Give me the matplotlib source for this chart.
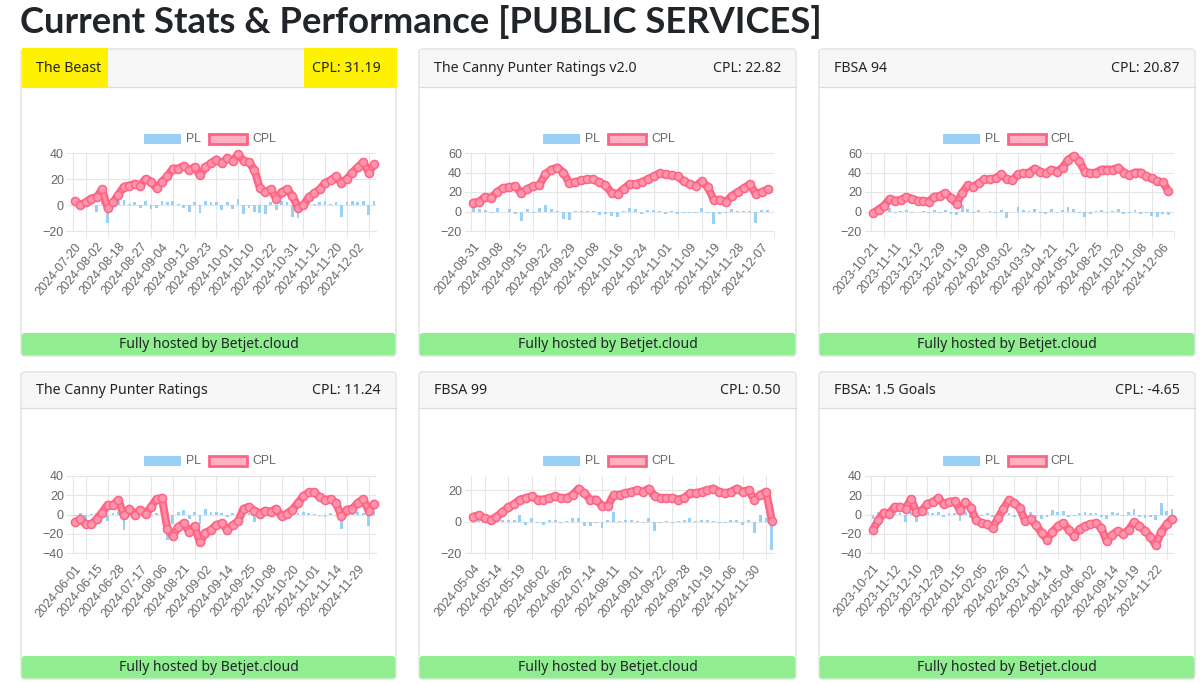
import matplotlib

matplotlib.use("Agg")
import matplotlib.pyplot as plt
import numpy as np
from matplotlib.patches import FancyBboxPatch, Rectangle

W, H = 1200, 683

PAGE_TITLE = "Current Stats & Performance [PUBLIC SERVICES]"
FOOTER = "Fully hosted by Betjet.cloud"

# --- data, one block per service -------------------------------------------
BEAST_NAME = "The Beast"
BEAST_CPL_TEXT = "CPL: 31.19"
BEAST_LABELS = ["2024-07-20", "2024-08-02", "2024-08-18", "2024-08-27", "2024-09-04",
                "2024-09-12", "2024-09-23", "2024-10-01", "2024-10-10", "2024-10-22",
                "2024-10-31", "2024-11-12", "2024-11-20", "2024-12-02"]
BEAST_PL = [2, -2, 1, 2, -5, 3, -14, 2, 3, 4, 1, 2, -2, 3, -3, -2, 3, 2, 3, 1,
            -2, -5, 2, -6, 3, 2, 2, -4, 2, -3, 5, -7, -2, -5, -6, -7, 2, -4, 3, 2,
            -9, -10, 2, 3, 1, 2, 3, 1, 2, -9, 2, 3, 2, 3, -8, 3]
BEAST_CPL = [3, 0, 2, 5, 6, 12, -2, 2, 8, 14, 15, 16, 15, 20, 18, 13, 18, 22, 28, 28,
             30, 27, 29, 23, 29, 32, 35, 32, 36, 34, 39, 34, 33, 27, 13, 10, 12, 5, 10, 12,
             7, -2, 0, 6, 9, 12, 17, 19, 22, 17, 20, 25, 29, 33, 25, 31.19]

CANNY2_NAME = "The Canny Punter Ratings v2.0"
CANNY2_CPL_TEXT = "CPL: 22.82"
CANNY2_LABELS = ["2024-08-31", "2024-09-08", "2024-09-15", "2024-09-22", "2024-09-29",
                 "2024-10-08", "2024-10-16", "2024-10-24", "2024-11-01", "2024-11-09",
                 "2024-11-19", "2024-11-28", "2024-12-07"]
CANNY2_PL = [5, 3, 2, -2, 4, -1, 3, -3, -10, 3, -2, 4, 7, 3, 1, -8, -9, 1, 1, 0.5,
             0.5, -4, -3, -5, -6, 1, 4, 3, -3, 2, 2, 1, -3, 1, -3, -2, -2, -2, 4, -2,
             -13, -3, -2, 3, 1, 1, 1, -12, 2, 2]
CANNY2_CPL = [9, 10, 15, 14, 20, 24, 25, 26, 19, 23, 26, 27, 38, 43, 45, 40, 29, 30, 32, 33,
              33, 30, 27, 19, 18, 23, 28, 28, 30, 33, 36, 39, 38, 37, 36, 31, 28, 26, 31, 25,
              12, 12, 10, 16, 20, 24, 28, 18, 20, 22.82]

FBSA94_NAME = "FBSA 94"
FBSA94_CPL_TEXT = "CPL: 20.87"
FBSA94_LABELS = ["2023-10-21", "2023-11-11", "2023-12-12", "2023-12-29", "2024-01-19",
                 "2024-02-09", "2024-03-02", "2024-03-31", "2024-04-21", "2024-05-12",
                 "2024-08-25", "2024-10-20", "2024-11-08", "2024-12-06"]
FBSA94_PL = [-2, 3, 2, 4, -2, 1, 2, -2, -1, 1, -2, 2, -2, 2, -3, -4, 7, 3, -2, 2,
             -1, 1, -2, 2, -7, -1, 5, 2, 1, 3, -2, -3, 3, -2, 2, 5, 3, -2, -6, -3,
             1, 2, -2, 1, 3, -3, -2, 2, -3, -2, -5, -6, -3, -4]
FBSA94_CPL = [-2, 2, 6, 13, 11, 12, 15, 13, 11, 11, 10, 15, 16, 19, 14, 8, 19, 27, 25, 29,
              33, 33, 34, 38, 33, 32, 38, 39, 40, 44, 41, 39, 43, 41, 45, 53, 57, 52, 41, 39,
              40, 43, 43, 43, 45, 40, 37, 40, 40, 36, 34, 31, 30, 20.87]

CANNY_NAME = "The Canny Punter Ratings"
CANNY_CPL_TEXT = "CPL: 11.24"
CANNY_LABELS = ["2024-06-01", "2024-06-15", "2024-06-28", "2024-07-17", "2024-08-06",
                "2024-08-21", "2024-09-02", "2024-09-14", "2024-09-25", "2024-10-08",
                "2024-10-20", "2024-11-01", "2024-11-14", "2024-11-29"]
CANNY_PL = [-2, 2, -5, 1, 2, 3, -7, 2, 3, -16, 2, -5, 3, -2, 3, 2, 1, -27, -10, 3,
            5, -5, 3, -10, 6, 3, 3, 2, -3, 2, 2, 3, 2, -8, -2, 2, 1, 2, -3, 2,
            2, 2, 3, 2, 1, -2, -3, 2, -2, -15, 3, 2, 3, 2, -12, 3]
CANNY_CPL = [-8, -5, -10, -10, -5, 2, 10, 10, 15, -1, 6, 0, 5, 1, 8, 16, 17, -15, -22, -13,
             -9, -18, -12, -29, -19, -16, -11, -9, -16, -11, -7, 6, 8, 4, 1, 4, 3, 6, -2, 1,
             5, 12, 19, 23, 23, 18, 15, 16, 12, -2, 5, 6, 12, 16, 4, 11.24]

FBSA99_NAME = "FBSA 99"
FBSA99_CPL_TEXT = "CPL: 0.50"
FBSA99_LABELS = ["2024-05-04", "2024-05-14", "2024-05-19", "2024-06-02", "2024-06-26",
                 "2024-07-14", "2024-08-11", "2024-09-01", "2024-09-22", "2024-09-28",
                 "2024-10-19", "2024-11-06", "2024-11-30"]
FBSA99_PL = [2, 1, -1, -2, 1, 1, 1, 1, 4, -2, 2, -1, -2, 1, 1, -1, 0.5, 2, 2, -3,
             -3, -1, -4, 1, 6, 0.5, 1, 1, 0.5, -1, 2, -6, -1, 0.5, -1, 0.5, 1, 2, 0.5, 1,
             1, 0.5, -1, -1, 1, 1, -2, 1, -7, 4, 2, -18]
FBSA99_CPL = [3, 4, 2, 1, 3, 6, 9, 11, 14, 15, 16, 14, 14, 15, 16, 15, 15, 17, 21, 18,
              14, 14, 10, 10, 17, 17, 18, 19, 20, 19, 21, 16, 15, 15, 15, 14, 15, 18, 18, 19,
              20, 21, 19, 18, 19, 21, 19, 20, 14, 17, 19, 0.5]

GOALS_NAME = "FBSA: 1.5 Goals"
GOALS_CPL_TEXT = "CPL: -4.65"
GOALS_LABELS = ["2023-10-21", "2023-11-12", "2023-12-10", "2023-12-29", "2024-01-15",
                "2024-02-05", "2024-02-26", "2024-03-17", "2024-04-14", "2024-05-04",
                "2024-06-02", "2024-09-14", "2024-10-19", "2024-11-22"]
GOALS_PL = [-5, 3, 4, -2, 3, 2, -8, 3, -8, 2, 3, 2, 3, -3, 2, 2, -7, 3, -4, -5,
            -2, 2, -3, 4, 3, 2, -3, -2, -8, 3, -4, -5, -3, 5, 3, 4, -3, -2, 2, 3,
            2, 2, -3, -5, 3, 2, -2, 3, 6, -3, -4, -3, -6, 12, 4, 6]
GOALS_CPL = [-16, -6, 2, 1, 8, 8, 6, 16, 3, 4, 11, 13, 17, 11, 13, 14, 5, 13, 7, -6,
             -9, -10, -14, -4, 6, 15, 12, 7, -7, -5, -11, -19, -26, -18, -12, -9, -16, -22, -15, -12,
             -10, -9, -14, -28, -21, -17, -20, -16, -8, -12, -17, -23, -32, -18, -10, -4.65]

PANELS = [
    dict(name=BEAST_NAME, cpl_text=BEAST_CPL_TEXT, labels=BEAST_LABELS, pl=BEAST_PL, cpl=BEAST_CPL,
         ylim=(-20, 40), yticks=[-20, 0, 20, 40], highlight=True),
    dict(name=CANNY2_NAME, cpl_text=CANNY2_CPL_TEXT, labels=CANNY2_LABELS, pl=CANNY2_PL, cpl=CANNY2_CPL,
         ylim=(-20, 60), yticks=[-20, 0, 20, 40, 60]),
    dict(name=FBSA94_NAME, cpl_text=FBSA94_CPL_TEXT, labels=FBSA94_LABELS, pl=FBSA94_PL, cpl=FBSA94_CPL,
         ylim=(-20, 60), yticks=[-20, 0, 20, 40, 60]),
    dict(name=CANNY_NAME, cpl_text=CANNY_CPL_TEXT, labels=CANNY_LABELS, pl=CANNY_PL, cpl=CANNY_CPL,
         ylim=(-40, 40), yticks=[-40, -20, 0, 20, 40]),
    dict(name=FBSA99_NAME, cpl_text=FBSA99_CPL_TEXT, labels=FBSA99_LABELS, pl=FBSA99_PL, cpl=FBSA99_CPL,
         ylim=(-20, 29), yticks=[-20, 0, 20]),
    dict(name=GOALS_NAME, cpl_text=GOALS_CPL_TEXT, labels=GOALS_LABELS, pl=GOALS_PL, cpl=GOALS_CPL,
         ylim=(-40, 40), yticks=[-40, -20, 0, 20, 40]),
]

# --- page geometry, in screen pixels ---------------------------------------
CARD_X = [(21, 396), (419, 796), (819, 1195)]
ROWS = [
    dict(top=49, head=87, foot=333, bottom=356, plot_top=153, plot_bottom=231, legend_y=139),
    dict(top=372, head=408, foot=656, bottom=679, plot_top=476, plot_bottom=553, legend_y=461),
]

TEXT_DARK = "#212529"
GRID = "#e6e6e6"
BORDER = "#dcdcdc"
BAR_BLUE = "#9ad0f5"
LINE_RED = "#ff6384"
POINT_PINK = "#ffb1c1"
UI_FONT = ["Noto Sans", "DejaVu Sans"]
TITLE_FONT = ["Lato", "DejaVu Sans"]
CHART_FONT = ["Liberation Sans", "DejaVu Sans"]
STEP = 4  # one date label every STEP points


def draw_card(fig, bg, x0, x1, row, panel):
    w = x1 - x0
    bg.add_patch(FancyBboxPatch((x0, row["top"]), w, row["bottom"] - row["top"],
                                boxstyle="round,pad=0,rounding_size=4",
                                fc="white", ec=BORDER, lw=0.9, zorder=1))
    bg.add_patch(Rectangle((x0 + 0.6, row["top"] + 0.6), w - 1.2, row["head"] - row["top"] - 0.6,
                           fc="#f7f7f7", ec="none", zorder=2))
    bg.plot([x0, x1], [row["head"], row["head"]], color=BORDER, lw=0.9, zorder=3)
    bg.add_patch(FancyBboxPatch((x0 + 0.6, row["foot"]), w - 1.2, row["bottom"] - row["foot"] - 0.6,
                                boxstyle="round,pad=0,rounding_size=3",
                                fc="#90ee90", ec="none", zorder=2))

    head_y = (row["top"] + row["head"]) / 2
    if panel.get("highlight"):
        bg.add_patch(Rectangle((x0 + 1, row["top"] - 1), 86, row["head"] - row["top"] + 2,
                               fc="#fff200", ec="none", zorder=4))
        bg.add_patch(Rectangle((x1 - 92, row["top"] - 1), 93, row["head"] - row["top"] + 2,
                               fc="#fff200", ec="none", zorder=4))
    bg.text(x0 + 15, head_y + 1, panel["name"], ha="left", va="center", fontsize=10.2,
            color=TEXT_DARK, family=UI_FONT, zorder=5)
    bg.text(x1 - 15, head_y + 1, panel["cpl_text"], ha="right", va="center", fontsize=10.2,
            color=TEXT_DARK, family=UI_FONT, zorder=5)
    bg.text((x0 + x1) / 2, (row["foot"] + row["bottom"]) / 2, FOOTER, ha="center", va="center",
            fontsize=10, color=TEXT_DARK, family=UI_FONT, zorder=5)

    # legend, drawn by hand like the Chart.js one
    cx = (x0 + x1) / 2
    ly = row["legend_y"]
    bg.add_patch(Rectangle((cx - 64.5, ly - 5), 37, 10, fc=BAR_BLUE, ec="none", zorder=4))
    bg.text(cx - 22.5, ly, "PL", ha="left", va="center", fontsize=8.8, color="#666666",
            family=CHART_FONT, zorder=5)
    bg.add_patch(Rectangle((cx + 0.5, ly - 5), 38, 10, fc=POINT_PINK, ec=LINE_RED, lw=2, zorder=4))
    bg.text(cx + 43.5, ly, "CPL", ha="left", va="center", fontsize=8.8, color="#666666",
            family=CHART_FONT, zorder=5)

    # chart area
    left, right = x0 + 52, x0 + 355
    ax = fig.add_axes([left / W, 1 - row["plot_bottom"] / H, (right - left) / W,
                       (row["plot_bottom"] - row["plot_top"]) / H])
    ax.set_zorder(2)
    ax.patch.set_alpha(0)
    n = len(panel["cpl"])
    x = np.arange(n)
    ax.bar(x, panel["pl"], width=0.5, color=BAR_BLUE, zorder=2)
    # thick band under the points, like the dense Chart.js line
    ax.plot(x, panel["cpl"], color=LINE_RED, lw=5.8, solid_joinstyle="round",
            solid_capstyle="round", zorder=3, clip_on=False)
    ax.plot(x, panel["cpl"], color="#ff8ea5", lw=2.4, solid_joinstyle="round",
            solid_capstyle="round", zorder=3, clip_on=False)
    ax.plot(x, panel["cpl"], ls="none", marker="o", ms=5.8, mfc="#ff97ac",
            mec=LINE_RED, mew=1.1, zorder=4, clip_on=False)
    ax.set_xlim(-0.35, n - 0.65)
    ax.set_ylim(*panel["ylim"])
    ax.set_yticks(panel["yticks"])
    label_pos = x[::STEP]
    ax.set_xticks(label_pos)
    ax.set_xticklabels(panel["labels"], rotation=50, ha="right", va="top",
                       rotation_mode="anchor", family=CHART_FONT)
    for lab in ax.get_yticklabels():
        lab.set_family(CHART_FONT)
    ax.set_xticks(label_pos + STEP / 2, minor=True)
    ax.grid(axis="y", which="major", color=GRID, lw=0.8, zorder=0)
    ax.grid(axis="x", which="minor", color=GRID, lw=0.8, zorder=0)
    ax.tick_params(axis="x", which="major", length=0, pad=7, labelsize=9, labelcolor="#666666")
    ax.tick_params(axis="x", which="minor", length=5, color=GRID)
    ax.tick_params(axis="y", length=5, color=GRID, pad=1.5, labelsize=9, labelcolor="#666666")
    for side in ("top", "right"):
        ax.spines[side].set_visible(False)
    for side in ("left", "bottom"):
        ax.spines[side].set_color(GRID)
        ax.spines[side].set_linewidth(0.8)


def main():
    fig = plt.figure(figsize=(W / 100, H / 100), dpi=100)
    bg = fig.add_axes([0, 0, 1, 1])
    bg.set_xlim(0, W)
    bg.set_ylim(H, 0)
    bg.axis("off")
    bg.set_zorder(0)

    bg.text(20, 33, PAGE_TITLE, ha="left", va="baseline", fontsize=26.2, fontweight="bold",
            color=TEXT_DARK, family=TITLE_FONT)

    for i, panel in enumerate(PANELS):
        x0, x1 = CARD_X[i % 3]
        draw_card(fig, bg, x0, x1, ROWS[i // 3], panel)

    fig.savefig("out.png", dpi=100)
    plt.close(fig)


if __name__ == "__main__":
    main()
